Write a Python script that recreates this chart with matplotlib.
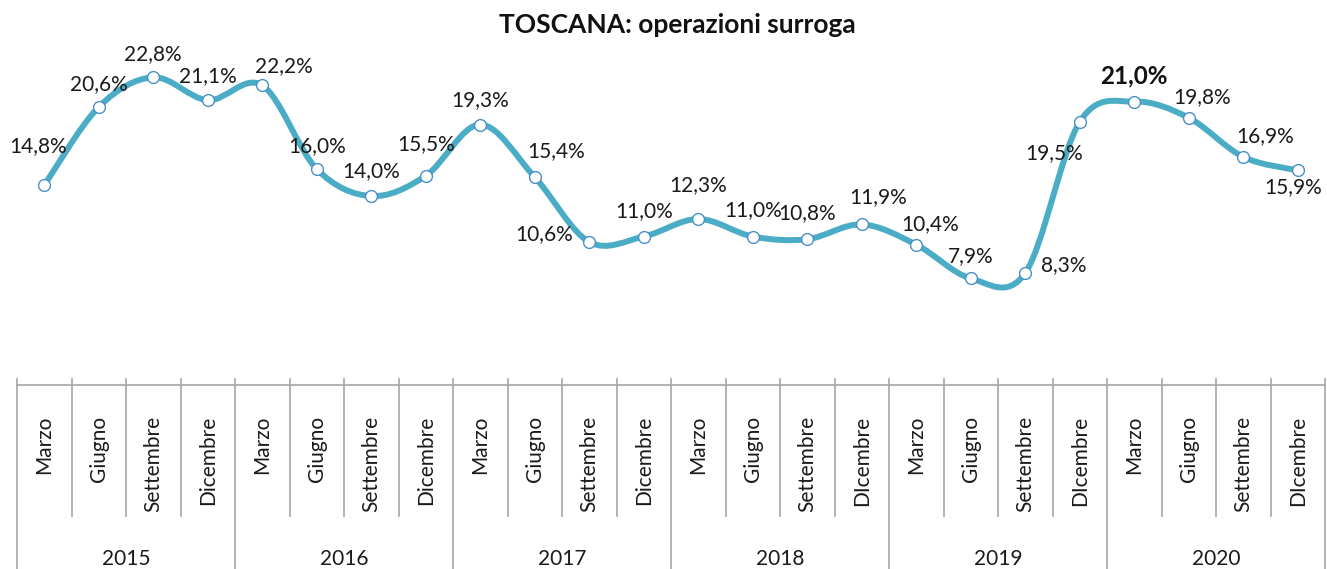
import matplotlib.pyplot as plt
import matplotlib as mpl
from matplotlib.path import Path
from matplotlib.patches import PathPatch
from matplotlib.transforms import blended_transform_factory

mpl.rcParams['font.family'] = ['Lato', 'DejaVu Sans']
mpl.rcParams['font.size'] = 15

# Data
years = ['2015', '2016', '2017', '2018', '2019', '2020']
months = [
    ['Marzo', 'Giugno', 'Settembre', 'Dicembre'],
    ['Marzo', 'Giugno', 'Settembre', 'Dicembre'],
    ['Marzo', 'Giugno', 'Settembre', 'Dicembre'],
    ['Marzo', 'Giugno', 'Settembre', 'DIcembre'],
    ['Marzo', 'Giugno', 'Settembre', 'DIcembre'],
    ['Marzo', 'Giugno', 'Settembre', 'DIcembre'],
]
surroga = [14.8, 20.6, 22.8, 21.1, 22.2, 16.0, 14.0, 15.5,
           19.3, 15.4, 10.6, 11.0, 12.3, 11.0, 10.8, 11.9,
           10.4, 7.9, 8.3, 19.5, 21.0, 19.8, 16.9, 15.9]

# label offsets in pixels (dx, dy), y up
label_off = [(-6, 39), (0, 23), (0, 23), (0, 24), (22, 19), (0, 23), (0, 25), (0, 32),
             (0, 24), (21, 26), (-45, 8), (0, 25), (0, 34), (0, 26), (0, 26), (16, 27),
             (14, 21), (0, 22), (39, 8), (-26, -31), (0, 26), (13, 21), (22, 21), (-5, -17)]
highlight = 20

line_col = '#4BACC6'
grid_col = '#A6A6A6'
W, H = 1327, 569

fig = plt.figure(figsize=(W / 100, H / 100), dpi=100)
ax = fig.add_axes([17 / W, 1 - 385 / H, (1325 - 17) / W, (385 - 47.6) / H])

n = len(surroga)
xs = [i + 0.5 for i in range(n)]

# smoothed line (Catmull-Rom as bezier, like Excel smoothing)
verts = [(xs[0], surroga[0])]
codes = [Path.MOVETO]
for i in range(n - 1):
    p0 = (xs[max(i - 1, 0)], surroga[max(i - 1, 0)])
    p1 = (xs[i], surroga[i])
    p2 = (xs[i + 1], surroga[i + 1])
    p3 = (xs[min(i + 2, n - 1)], surroga[min(i + 2, n - 1)])
    c1 = (p1[0] + (p2[0] - p0[0]) / 6, p1[1] + (p2[1] - p0[1]) / 6)
    c2 = (p2[0] - (p3[0] - p1[0]) / 6, p2[1] - (p3[1] - p1[1]) / 6)
    verts += [c1, c2, p2]
    codes += [Path.CURVE4] * 3
ax.add_patch(PathPatch(Path(verts, codes), facecolor='none', edgecolor=line_col,
                       lw=4.3, capstyle='round', joinstyle='round', zorder=2))
ax.plot(xs, surroga, linestyle='none', marker='o', markersize=8.5,
        markerfacecolor='white', markeredgecolor='#4A8FC7', markeredgewidth=1.0, zorder=3)

for i, v in enumerate(surroga):
    dx, dy = label_off[i]
    txt = f'{v:.1f}%'.replace('.', ',')
    if i == highlight:
        ax.annotate(txt, (xs[i], v), xytext=(dx * 0.72, dy * 0.72), textcoords='offset points',
                    ha='center', va='center', fontsize=17.5, fontweight='bold', color='#111111')
    else:
        ax.annotate(txt, (xs[i], v), xytext=(dx * 0.72, dy * 0.72), textcoords='offset points',
                    ha='center', va='center', fontsize=15, color='#1a1a1a')

ax.set_xlim(0, n)
ax.set_ylim(0, 25)
ax.set_xticks([])
ax.set_yticks([])
for s in ['top', 'left', 'right']:
    ax.spines[s].set_visible(False)
ax.spines['bottom'].set_color(grid_col)
ax.spines['bottom'].set_linewidth(1.2)

# category axis: separators and labels
tr = blended_transform_factory(ax.transData, fig.transFigure)
y_top = 1 - 379 / H
y_month = 1 - 516 / H
y_year = 0.0
for k in range(n + 1):
    y_end = y_year if k % 4 == 0 else y_month
    ax.plot([k, k], [y_top, y_end], color=grid_col, lw=1.2, transform=tr, clip_on=False)

for yi, yr in enumerate(years):
    for mi, m in enumerate(months[yi]):
        k = yi * 4 + mi
        ax.text(k + 0.5, 1 - 416 / H, m, rotation=90, ha='center', va='top',
                transform=tr, fontsize=15, color='#1a1a1a')
    ax.text(yi * 4 + 2, 1 - 559 / H, yr, ha='center', va='center',
            transform=tr, fontsize=15, color='#1a1a1a')

fig.text(677 / W, 1 - 25 / H, 'TOSCANA: operazioni surroga', ha='center', va='center',
         fontsize=19, fontweight='bold', color='#111111')

fig.savefig('out.png', dpi=100)
